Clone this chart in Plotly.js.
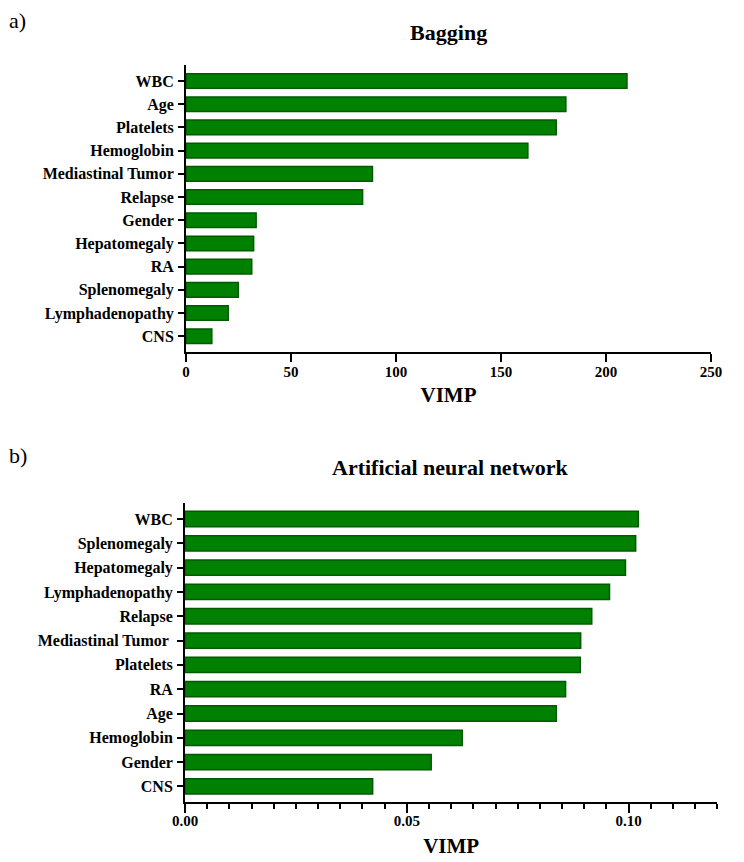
<!DOCTYPE html>
<html>
<head>
<meta charset="utf-8">
<script src="https://cdn.plot.ly/plotly-3.0.1.min.js"></script>
<style>html,body{margin:0;padding:0;background:#fff;}#chart{width:744px;height:862px;}</style>
</head>
<body>
<div id="chart"></div>
<script>
// Panel a) Bagging
const bagCategories = ['WBC','Age','Platelets','Hemoglobin','Mediastinal Tumor','Relapse','Gender','Hepatomegaly','RA','Splenomegaly','Lymphadenopathy','CNS'];
const bagVIMP = [210.0, 180.9, 176.3, 162.8, 88.8, 84.1, 33.4, 32.2, 31.3, 24.9, 20.1, 12.3];
const bagTicks = [0, 50, 100, 150, 200, 250];

// Panel b) Artificial neural network
const annCategories = ['WBC','Splenomegaly','Hepatomegaly','Lymphadenopathy','Relapse','Mediastinal Tumor\u00a0','Platelets','RA','Age','Hemoglobin','Gender','CNS'];
const annVIMP = [0.1022, 0.1016, 0.0993, 0.0957, 0.0917, 0.0892, 0.0891, 0.0858, 0.0837, 0.0625, 0.0555, 0.0423];
const annTicks = [0, 0.05, 0.10];
const annTickLabels = ['0.00', '0.05', '0.10'];

const FONT = 'Liberation Serif, Times New Roman, serif';
const barColor = '#008000';
const barLine = '#005a00';

const traces = [
  {type:'bar', orientation:'h', x:bagVIMP, y:bagCategories, xaxis:'x', yaxis:'y',
   marker:{color:barColor, line:{color:barLine, width:1.5}}, hoverinfo:'x+y'},
  {type:'bar', orientation:'h', x:annVIMP, y:annCategories, xaxis:'x2', yaxis:'y2',
   marker:{color:barColor, line:{color:barLine, width:1.5}}, hoverinfo:'x+y'}
];

const yTickFont = {family:FONT, size:16, color:'#000', weight:700};
const xTickFont = {family:FONT, size:15, color:'#000', weight:700};
const axTitleFont = {family:FONT, size:21, color:'#000', weight:700};
const panelTitleFont = {family:FONT, size:22, color:'#000', weight:700};

const layout = {
  width:744, height:862,
  margin:{l:0, r:0, t:0, b:0},
  paper_bgcolor:'#fff', plot_bgcolor:'#fff',
  showlegend:false,
  bargap:0.37,
  font:{family:FONT, color:'#000'},
  title:{text:'Bagging', font:panelTitleFont,
         x:0.603, xanchor:'center', y:0.962, yanchor:'middle', xref:'paper', yref:'paper'},
  xaxis:{domain:[0.25, 0.9556], anchor:'y', range:[0, 250], autorange:false,
         tickvals:bagTicks, ticktext:bagTicks.map(String),
         showline:true, linewidth:2, linecolor:'#000', ticks:'outside', ticklen:8, tickwidth:2, tickcolor:'#000',
         showgrid:false, zeroline:false, tickfont:xTickFont, ticklabelstandoff:-3,
         title:{text:'VIMP', font:axTitleFont, standoff:8}},
  yaxis:{domain:[0.5916, 0.9246], anchor:'x', type:'category', range:[11.68, -0.69], autorange:false,
         showline:true, linewidth:2, linecolor:'#000', ticks:'outside', ticklen:6, tickwidth:2, tickcolor:'#000',
         showgrid:false, zeroline:false, tickfont:yTickFont, ticklabelstandoff:1},
  xaxis2:{domain:[0.2487, 0.9641], anchor:'y2', range:[0, 0.12], autorange:false,
          tickvals:annTicks, ticktext:annTickLabels,
          showline:true, linewidth:2, linecolor:'#000', ticks:'outside', ticklen:9, tickwidth:2, tickcolor:'#000',
          minor:{dtick:0.005, tick0:0, ticks:'outside', ticklen:5, tickwidth:2, tickcolor:'#000', showgrid:false},
          showgrid:false, zeroline:false, tickfont:xTickFont, ticklabelstandoff:-5,
          title:{text:'VIMP', font:axTitleFont, standoff:10}},
  yaxis2:{domain:[0.0696, 0.4165], anchor:'x2', type:'category', range:[11.64, -0.66], autorange:false,
          showline:true, linewidth:2, linecolor:'#000', ticks:'outside', ticklen:6, tickwidth:2, tickcolor:'#000',
          showgrid:false, zeroline:false, tickfont:yTickFont, ticklabelstandoff:1},
  annotations:[
    {text:'Artificial neural network', xref:'paper', yref:'paper', x:0.606, y:0.458,
     xanchor:'center', yanchor:'middle', showarrow:false, font:panelTitleFont},
    {text:'a)', xref:'paper', yref:'paper', x:0.010, y:0.976, xanchor:'left', yanchor:'middle',
     showarrow:false, font:{family:FONT, size:22, color:'#000'}},
    {text:'b)', xref:'paper', yref:'paper', x:0.010, y:0.472, xanchor:'left', yanchor:'middle',
     showarrow:false, font:{family:FONT, size:22, color:'#000'}}
  ]
};

Plotly.newPlot('chart', traces, layout, {displayModeBar:false, responsive:false});
</script>
</body>
</html>
